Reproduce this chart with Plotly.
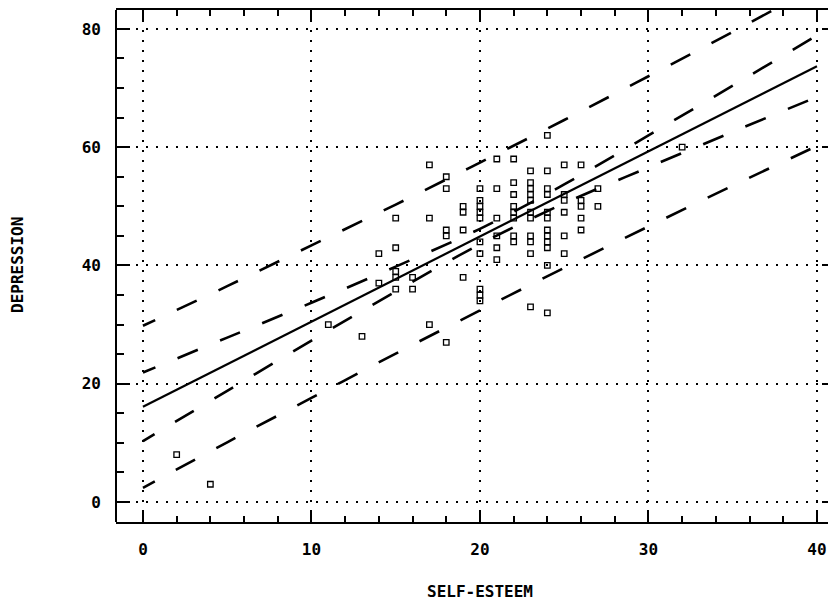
import plotly.graph_objects as go

# ---- data ----
self_esteem = [2, 4, 11, 13, 14, 14, 15, 15, 15, 15, 15, 16, 16, 17, 17, 17,
               18, 18, 18, 18, 18, 19, 19, 19, 19, 20, 20, 20, 20, 20, 20, 20,
               20, 20, 20, 21, 21, 21, 21, 21, 21, 22, 22, 22, 22, 22, 22, 22,
               22, 23, 23, 23, 23, 23, 23, 23, 23, 23, 23, 23, 24, 24, 24, 24,
               24, 24, 24, 24, 24, 24, 24, 24, 25, 25, 25, 25, 25, 25, 26, 26,
               26, 26, 26, 27, 27, 32]
depression = [8, 3, 30, 28, 42, 37, 48, 43, 39, 38, 36, 38, 36, 57, 48, 30,
              55, 53, 46, 45, 27, 50, 49, 46, 38, 53, 51, 50, 49, 48, 44, 42,
              36, 35, 34, 58, 53, 48, 45, 43, 41, 58, 54, 52, 50, 49, 48, 45,
              44, 56, 54, 53, 52, 51, 49, 48, 45, 44, 42, 33, 62, 56, 53, 52,
              49, 48, 46, 45, 44, 43, 40, 32, 57, 52, 51, 49, 45, 42, 57, 51,
              50, 48, 46, 53, 50, 60]

band_x = [0, 5, 10, 15, 20, 25, 30, 35, 40]
fit_y = [16.1, 23.3, 30.5, 37.7, 44.9, 52.1, 59.3, 66.5, 73.7]
conf_upper = [21.9, 27.8, 33.7, 39.8, 46.2, 53.7, 62.0, 70.4, 78.9]
conf_lower = [10.3, 18.8, 27.3, 35.6, 43.6, 50.5, 56.6, 62.6, 68.5]
pred_upper = [29.8, 36.5, 43.4, 50.3, 57.4, 64.6, 72.0, 79.5, 87.2]
pred_lower = [2.4, 10.1, 17.6, 25.1, 32.4, 39.6, 46.6, 53.5, 60.2]

x_ticks = [0, 10, 20, 30, 40]
y_ticks = [0, 20, 40, 60, 80]
x_title = "SELF-ESTEEM"
y_title = "DEPRESSION"

# ---- styling ----
FONT = "DejaVu Sans Mono"
dash_pattern = "13px,24px," + ",".join(["22px,24px"] * 24)

fig = go.Figure()

for band in (pred_upper, conf_upper, conf_lower, pred_lower):
    fig.add_trace(go.Scatter(
        x=band_x, y=band, mode="lines",
        line=dict(color="black", width=2.6, dash=dash_pattern,
                  shape="spline", smoothing=1.0),
        hoverinfo="skip"))

fig.add_trace(go.Scatter(
    x=band_x, y=fit_y, mode="lines",
    line=dict(color="black", width=2.2), hoverinfo="skip"))

fig.add_trace(go.Scatter(
    x=self_esteem, y=depression, mode="markers",
    marker=dict(symbol="square-open", size=5.5, color="black",
                line=dict(color="black", width=1.3))))

tick_font = dict(family=FONT, size=16, color="black", weight="bold")

axis_common = dict(
    ticks="inside", tickwidth=2, tickcolor="black",
    showgrid=True, gridcolor="black", gridwidth=2, griddash="2px,8px",
    zeroline=False,
    tickfont=tick_font,
)

fig.update_xaxes(
    range=[-1.60, 41.13], tickvals=x_ticks, ticktext=[str(v) for v in x_ticks],
    ticklen=10, showline=True, linecolor="black", linewidth=2, mirror="ticks",
    minor=dict(dtick=2, tick0=0, ticks="inside", ticklen=6, tickwidth=2,
               tickcolor="black", showgrid=False),
    ticklabelstandoff=12,
    **axis_common)

fig.update_yaxes(
    range=[-3.38, 83.2], tickvals=y_ticks, ticktext=[str(v) for v in y_ticks],
    ticklen=14, showline=False, mirror="ticks",
    minor=dict(dtick=5, tick0=0, ticks="inside", ticklen=8, tickwidth=2,
               tickcolor="black", showgrid=False),
    ticklabelstandoff=14,
    **axis_common)

fig.add_shape(type="line", xref="paper", yref="paper", x0=0, x1=0, y0=0, y1=1,
              line=dict(color="black", width=2))

fig.add_annotation(text=x_title, xref="paper", yref="paper", x=0.5056, y=0,
                   yshift=-69, showarrow=False, xanchor="center", yanchor="middle",
                   font=tick_font)
fig.add_annotation(text=y_title, xref="paper", yref="paper", x=0, y=0.502,
                   xshift=-98, showarrow=False, textangle=-90,
                   xanchor="center", yanchor="middle",
                   font=tick_font)

# page body has an 8px margin, so the figure is shifted left/up by 8px
fig.update_layout(
    width=828, height=593,
    margin=dict(l=108, r=0, t=2, b=79),
    plot_bgcolor="white", paper_bgcolor="white",
    showlegend=False,
)

fig.write_html("out.html")
